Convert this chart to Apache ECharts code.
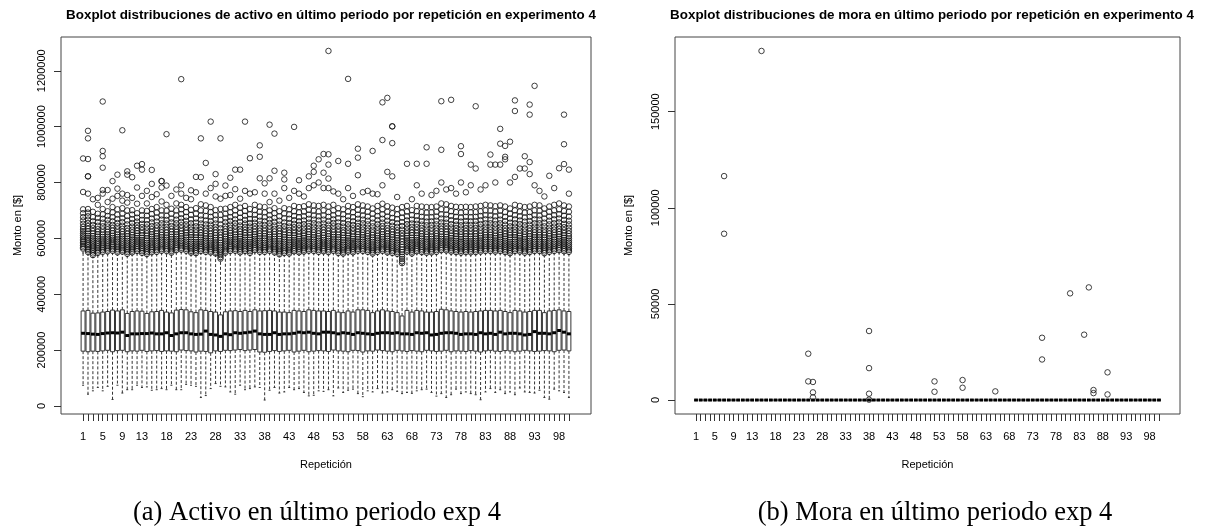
<!DOCTYPE html>
<html><head><meta charset="utf-8">
<script src="https://cdn.jsdelivr.net/npm/echarts@6/dist/echarts.min.js"></script>
<style>html,body{margin:0;padding:0;background:#fff}#c{width:1219px;height:527px}</style>
</head><body><div id="c"></div>
<script>
// ---------- categorías y ticks ----------
const repeticiones = ['1','2','3','4','5','6','7','8','9','10','11','12','13','14','15','16','17','18','19','20','21','22','23','24','25','26','27','28','29','30','31','32','33','34','35','36','37','38','39','40','41','42','43','44','45','46','47','48','49','50','51','52','53','54','55','56','57','58','59','60','61','62','63','64','65','66','67','68','69','70','71','72','73','74','75','76','77','78','79','80','81','82','83','84','85','86','87','88','89','90','91','92','93','94','95','96','97','98','99','100'];
const etiquetasX = ['1','5','9','13','18','23','28','33','38','43','48','53','58','63','68','73','78','83','88','93','98'];
const ticksYActivoMiles = [0,200,400,600,800,1000,1200];
const ticksYMora = [0,50000,100000,150000];

// ---------- activo (miles de $) ----------
const activoBigoteInfMiles = [74,42,54,66,54,70,23,74,46,58,58,74,66,68,56,58,62,58,74,58,58,77,74,70,30,37,62,80,70,68,50,42,74,58,62,68,66,21,56,66,46,50,66,58,62,48,36,38,54,52,58,36,64,48,56,60,44,33,54,50,62,46,50,58,52,44,48,45,54,58,60,48,35,44,30,40,60,44,50,44,40,22,50,62,48,58,44,50,40,64,50,48,46,56,30,24,60,54,48,30];
const activoQ1Miles = [196,194,196,195,197,199,194,198,199,194,197,196,199,195,197,198,195,197,196,194,200,198,197,193,196,195,190,197,195,199,198,200,202,198,200,202,193,192,195,198,195,197,199,193,196,199,194,196,198,197,195,200,197,196,194,199,198,193,197,196,200,198,196,194,199,197,195,198,196,194,199,197,195,196,199,194,197,196,195,198,196,193,197,199,196,195,198,197,194,196,199,197,195,196,198,197,194,199,200,197];
const activoMedianaMiles = [260,259,257,256,259,261,262,261,264,252,258,258,259,259,261,258,258,262,252,258,262,262,258,256,257,268,256,254,249,258,255,262,260,262,264,268,258,256,256,262,256,258,258,260,264,262,264,260,258,264,264,262,258,262,260,256,262,260,258,256,260,262,262,260,262,258,258,256,262,260,262,254,256,260,262,262,260,256,258,258,256,262,258,260,256,264,258,260,260,258,254,256,266,260,260,258,262,270,264,258];
const activoQ3Miles = [340,342,332,333,336,338,343,340,344,331,338,340,339,331,337,338,342,336,333,343,345,344,337,334,344,342,338,336,326,337,340,341,338,342,338,344,340,341,342,340,336,336,334,342,340,338,344,342,340,340,338,342,336,334,340,336,344,344,342,334,340,344,340,338,334,322,342,336,342,340,336,336,338,346,344,340,338,336,338,336,338,340,342,342,340,342,338,334,342,340,336,338,342,342,334,340,342,344,340,338];
const activoBigoteSupMiles = [548,540,532,538,541,543,546,540,543,535,540,545,538,534,540,542,546,544,540,548,550,545,540,538,545,542,540,538,522,540,545,546,540,545,538,548,542,542,546,540,534,538,536,544,540,543,546,545,542,544,541,546,538,536,543,540,546,545,542,536,542,546,540,538,535,505,543,536,544,541,539,540,542,548,547,543,541,539,541,540,541,543,545,545,543,545,541,537,545,543,539,541,545,545,537,542,545,548,544,542];
const activoAtipicosMiles = [
[563,568,574,580,586,591,597,604,611,618,626,633,641,652,664,676,690,704,766,886],
[551,557,562,568,575,581,588,594,601,609,617,625,634,644,655,667,679,692,705,760,822,822,884,958,985],
[540,546,553,559,566,572,579,586,593,600,608,617,626,636,648,661,676,695,740],
[548,553,559,565,571,578,584,591,598,606,614,623,633,645,658,673,688,720,745],
[552,558,564,570,577,583,590,597,605,613,622,632,643,656,670,686,705,760,773,853,894,913,1090],
[554,560,566,572,578,585,592,599,606,614,623,632,642,653,666,680,697,730,773],
[556,562,568,574,580,587,594,601,609,618,627,637,648,661,676,693,712,742,805],
[550,556,562,569,575,582,589,597,605,613,622,632,643,655,669,685,704,752,778,828],
[553,559,565,571,578,585,592,599,607,615,624,634,645,658,672,688,708,735,760,987],
[545,551,557,563,570,577,584,591,599,607,616,626,637,650,664,680,700,728,755,828,840],
[550,556,562,568,575,582,589,596,604,612,621,631,642,655,669,685,701,745,819],
[555,561,567,573,580,587,594,601,609,618,627,637,648,660,674,690,724,782,860],
[548,554,560,566,573,580,587,594,602,610,619,629,640,652,666,682,700,752,846,866],
[544,550,556,563,570,577,584,592,600,609,618,628,639,651,665,681,698,725,770],
[551,557,563,569,576,583,590,598,606,614,623,633,644,657,671,687,705,748,795,845],
[552,558,564,571,578,585,592,600,608,617,626,636,647,660,675,692,712,758],
[556,562,568,575,582,589,596,604,612,621,631,642,654,667,682,700,732,782,805,805],
[555,561,567,574,581,588,595,603,611,620,630,641,653,666,681,699,720,789,973],
[549,555,561,568,575,582,589,597,605,614,623,633,644,657,671,688,706,752],
[558,564,570,577,584,591,598,606,614,623,632,642,654,667,682,700,725,775],
[560,566,572,578,585,592,600,608,617,626,636,647,659,672,687,704,720,760,790,1170],
[556,562,568,574,581,588,595,603,611,620,629,639,650,663,677,694,712,745],
[549,555,561,567,574,581,588,596,604,612,621,631,642,654,668,684,702,740,772],
[547,553,559,566,573,580,587,595,603,612,621,631,643,656,671,688,708,765,820],
[555,561,567,573,580,587,595,603,611,620,630,641,653,667,682,700,722,819,958],
[552,558,564,571,578,585,592,600,608,617,627,638,650,664,680,698,718,760,870],
[550,556,562,569,576,583,591,599,607,616,626,637,649,662,677,694,712,780,1018],
[546,552,558,565,572,579,586,594,602,611,620,630,641,653,667,683,701,750,795,830],
[527,533,540,546,553,560,568,576,584,593,602,612,623,636,650,666,684,705,742,958],
[549,555,561,568,575,582,590,598,606,615,624,634,645,658,672,688,706,752,789],
[555,561,567,573,580,587,594,602,610,619,628,638,649,662,676,693,712,755,817],
[556,562,568,575,582,589,597,605,613,622,632,643,655,668,683,700,720,776,846],
[550,556,562,569,576,583,590,598,606,615,624,634,646,659,674,691,710,742,846],
[555,561,567,574,581,588,595,603,611,620,630,641,653,666,681,698,716,770,1018],
[548,554,560,566,573,580,587,595,603,612,621,631,642,655,669,686,705,760,887],
[558,564,570,577,584,591,598,606,614,623,633,644,656,669,684,701,720,765],
[552,558,564,571,578,585,592,600,608,617,627,638,650,663,678,695,714,815,892,933],
[552,558,564,570,577,584,592,600,608,617,626,636,648,661,676,693,712,760,797],
[556,562,568,575,582,589,597,605,613,622,632,643,655,668,683,700,730,815,1007],
[550,556,562,568,575,582,590,598,606,615,624,634,646,659,673,690,708,760,842,975],
[543,549,555,561,568,575,582,590,598,607,616,626,637,649,663,679,697,735],
[548,554,560,567,574,581,588,596,604,613,622,632,644,657,672,689,708,780,811,835],
[546,552,558,564,571,578,586,594,602,611,620,630,642,655,670,686,704,745],
[554,560,566,573,580,587,594,602,610,619,629,640,652,665,680,697,716,770,999],
[550,556,562,569,576,583,590,598,606,615,625,636,648,661,676,693,712,760,808],
[553,559,565,572,579,586,593,601,609,618,628,639,651,664,679,696,715,750],
[556,562,568,575,582,589,597,605,614,623,633,644,656,670,685,702,722,780,822],
[555,561,567,574,581,588,596,604,612,621,631,642,654,667,682,699,718,790,838,860],
[552,558,564,571,578,585,592,600,608,617,627,638,650,664,679,696,716,800,883],
[554,560,566,573,580,587,594,602,611,620,630,641,653,667,682,700,720,780,835,902],
[551,557,563,570,577,584,591,599,607,616,626,637,649,662,677,694,714,780,814,864,901,1271],
[556,562,568,575,582,589,597,605,613,622,632,643,655,668,683,700,720,768],
[548,554,560,567,574,581,588,596,604,613,622,632,644,657,672,689,708,760,877],
[546,552,558,564,571,578,586,594,602,611,620,630,642,655,670,686,704,740],
[553,559,565,572,579,586,593,601,609,618,628,639,651,664,679,696,716,780,867,1171],
[550,556,562,569,576,583,590,598,606,615,625,636,648,661,676,693,712,752],
[556,562,568,575,582,589,597,605,614,623,633,644,656,670,685,702,722,826,889,921],
[555,561,567,574,581,588,596,604,612,621,631,642,654,667,682,699,718,765],
[552,558,564,571,578,585,592,600,608,617,627,638,650,663,678,695,714,770],
[546,552,558,565,572,579,587,595,603,612,621,631,643,656,671,688,707,760,913],
[552,558,564,571,578,585,593,601,609,618,628,639,651,665,680,697,716,758],
[556,562,568,575,582,589,597,605,614,623,633,644,656,670,686,704,724,790,952,1087],
[550,556,562,569,576,583,591,599,607,616,626,637,649,663,678,695,715,838,1103],
[548,554,560,567,574,581,588,596,604,613,623,633,645,658,673,690,710,822,941,1001,1001],
[545,551,557,564,571,578,585,593,601,610,619,629,641,654,669,686,705,748],
[511,518,526,534,542,551,560,569,578,588,598,608,619,631,644,658,674,692,712],
[553,559,565,572,579,586,593,601,609,618,628,639,651,664,679,696,716,867],
[546,552,558,565,572,579,586,594,602,611,620,630,641,653,667,683,701,740],
[554,560,566,573,580,587,594,602,610,619,629,640,652,665,680,697,716,790,867],
[551,557,563,570,577,584,591,599,607,616,626,637,649,662,677,694,714,760],
[549,555,561,568,575,582,589,597,605,614,624,635,647,660,675,692,712,867,926],
[550,556,562,569,576,583,590,598,606,615,625,636,648,661,676,693,712,755],
[552,558,564,571,578,585,592,600,608,617,627,638,650,663,678,695,714,770],
[558,564,570,577,584,591,598,606,615,624,634,645,657,671,686,704,725,800,917,1091],
[557,563,569,576,583,590,597,605,614,623,633,644,656,670,685,702,722,775],
[553,559,565,572,579,586,593,601,609,618,628,639,651,665,680,697,716,780,1096],
[551,557,563,570,577,584,591,599,607,616,626,637,649,662,677,694,713,760],
[549,555,561,568,575,582,589,597,605,614,624,635,647,660,675,692,712,800,902,930],
[551,557,563,570,577,584,591,599,607,616,626,637,649,662,677,694,713,765],
[550,556,562,569,576,583,590,598,606,615,625,636,648,661,676,693,712,790,864],
[551,557,563,570,577,584,591,599,607,616,626,637,649,662,677,694,714,850,1073],
[553,559,565,572,579,586,593,601,609,618,628,639,651,665,680,697,716,775],
[555,561,567,574,581,588,596,604,612,621,631,642,654,668,683,700,720,790],
[555,561,567,574,581,588,596,604,612,621,631,642,654,667,682,699,718,864,900],
[553,559,565,572,579,586,593,601,609,618,628,639,651,664,679,696,715,800,864],
[555,561,567,574,581,588,596,604,612,621,631,642,654,667,682,699,718,864,939,992],
[551,557,563,570,577,584,591,599,607,616,626,637,649,662,677,694,714,883,892,931],
[547,553,559,566,573,580,587,595,603,612,621,631,643,656,671,688,707,800,946],
[555,561,567,574,581,588,596,604,612,621,631,642,654,668,683,700,720,820,1056,1094],
[553,559,565,572,579,586,593,601,609,618,628,639,651,664,679,696,716,850],
[549,555,561,568,575,582,589,597,605,614,624,635,647,660,675,692,712,850,894],
[551,557,563,570,577,584,591,599,607,616,626,637,649,662,677,694,714,830,873,1043,1079],
[555,561,567,574,581,588,596,604,612,621,631,642,654,668,683,700,720,790,1146],
[555,561,567,574,581,588,596,604,612,621,631,642,654,667,682,699,718,770],
[547,553,559,566,573,580,587,595,603,612,621,631,643,656,671,688,707,750],
[552,558,564,571,578,585,592,600,608,617,627,638,650,663,678,695,714,824],
[555,561,567,574,581,588,596,604,612,621,631,642,654,668,683,700,720,780],
[558,564,570,577,584,591,598,606,615,624,634,645,657,671,686,704,725,851],
[554,560,566,573,580,587,594,602,610,619,629,640,652,666,681,698,718,866,937,1043],
[552,558,564,571,578,585,592,600,608,617,627,638,650,663,678,695,714,760,846]
];

// ---------- mora ($) ----------
const moraBigoteInf = [0,0,0,0,0,0,0,0,0,0,0,0,0,0,0,0,0,0,0,0,0,0,0,0,0,0,0,0,0,0,0,0,0,0,0,0,0,0,0,0,0,0,0,0,0,0,0,0,0,0,0,0,0,0,0,0,0,0,0,0,0,0,0,0,0,0,0,0,0,0,0,0,0,0,0,0,0,0,0,0,0,0,0,0,0,0,0,0,0,0,0,0,0,0,0,0,0,0,0,0];
const moraQ1 = [0,0,0,0,0,0,0,0,0,0,0,0,0,0,0,0,0,0,0,0,0,0,0,0,0,0,0,0,0,0,0,0,0,0,0,0,0,0,0,0,0,0,0,0,0,0,0,0,0,0,0,0,0,0,0,0,0,0,0,0,0,0,0,0,0,0,0,0,0,0,0,0,0,0,0,0,0,0,0,0,0,0,0,0,0,0,0,0,0,0,0,0,0,0,0,0,0,0,0,0];
const moraMediana = [0,0,0,0,0,0,0,0,0,0,0,0,0,0,0,0,0,0,0,0,0,0,0,0,0,0,0,0,0,0,0,0,0,0,0,0,0,0,0,0,0,0,0,0,0,0,0,0,0,0,0,0,0,0,0,0,0,0,0,0,0,0,0,0,0,0,0,0,0,0,0,0,0,0,0,0,0,0,0,0,0,0,0,0,0,0,0,0,0,0,0,0,0,0,0,0,0,0,0,0];
const moraQ3 = [0,0,0,0,0,0,0,0,0,0,0,0,0,0,0,0,0,0,0,0,0,0,0,0,0,0,0,0,0,0,0,0,0,0,0,0,0,0,0,0,0,0,0,0,0,0,0,0,0,0,0,0,0,0,0,0,0,0,0,0,0,0,0,0,0,0,0,0,0,0,0,0,0,0,0,0,0,0,0,0,0,0,0,0,0,0,0,0,0,0,0,0,0,0,0,0,0,0,0,0];
const moraBigoteSup = [0,0,0,0,0,0,0,0,0,0,0,0,0,0,0,0,0,0,0,0,0,0,0,0,0,0,0,0,0,0,0,0,0,0,0,0,0,0,0,0,0,0,0,0,0,0,0,0,0,0,0,0,0,0,0,0,0,0,0,0,0,0,0,0,0,0,0,0,0,0,0,0,0,0,0,0,0,0,0,0,0,0,0,0,0,0,0,0,0,0,0,0,0,0,0,0,0,0,0,0];
const moraAtipicosRep = ['7','7','15','25','25','26','26','26','38','38','38','38','52','52','58','58','65','75','75','81','84','85','86','86','89','89'];
const moraAtipicosValor = [116500,86500,181600,24100,9700,9400,4000,1400,35900,16600,3300,200,9700,4300,10400,6400,4500,32400,21100,55500,34000,58600,5200,3600,14400,2900];

// ---------- construcción ----------
const padIzq = ['p1','p2','p3','p4'], padDer = ['p5','p6','p7','p8'];
const categorias = padIzq.concat(repeticiones, padDer);
const cajasActivo = repeticiones.map((r, i) => [r, activoBigoteInfMiles[i], activoQ1Miles[i], activoMedianaMiles[i], activoQ3Miles[i], activoBigoteSupMiles[i]]);
const puntosActivo = [];
repeticiones.forEach((r, i) => activoAtipicosMiles[i].forEach(v => puntosActivo.push([r, v])));
const cajasMora = repeticiones.map((r, i) => [r, moraBigoteInf[i], moraQ1[i], moraMediana[i], moraQ3[i], moraBigoteSup[i]]);
const puntosMora = moraAtipicosRep.map((r, i) => [r, moraAtipicosValor[i]]);

function dibujarCaja(params, api) {
  const i = api.value(0);
  const pLo = api.coord([i, api.value(1)]);
  const pQ1 = api.coord([i, api.value(2)]);
  const pMd = api.coord([i, api.value(3)]);
  const pQ3 = api.coord([i, api.value(4)]);
  const pHi = api.coord([i, api.value(5)]);
  const w = api.size([1, 0])[0] * 0.8;
  const cx = pMd[0];
  const st = w * 0.25;
  const dash = {stroke: '#333', lineWidth: 1, lineDash: [3, 2], fill: null};
  const solid = {stroke: '#333', lineWidth: 1, fill: null};
  return {type: 'group', children: [
    {type: 'line', shape: {x1: cx, y1: pQ1[1], x2: cx, y2: pLo[1]}, style: dash},
    {type: 'line', shape: {x1: cx, y1: pQ3[1], x2: cx, y2: pHi[1]}, style: dash},
    {type: 'line', shape: {x1: cx - st, y1: pLo[1], x2: cx + st, y2: pLo[1]}, style: solid},
    {type: 'line', shape: {x1: cx - st, y1: pHi[1], x2: cx + st, y2: pHi[1]}, style: solid},
    {type: 'rect', shape: {x: cx - w / 2, y: pQ3[1], width: w, height: pQ1[1] - pQ3[1]}, style: {fill: '#fff', stroke: '#333', lineWidth: 1}},
    {type: 'line', shape: {x1: cx - w / 2, y1: pMd[1], x2: cx + w / 2, y2: pMd[1]}, style: {stroke: '#000', lineWidth: 3}}
  ]};
}

const fuente = 'Liberation Sans, Arial, Helvetica, sans-serif';
const rangoR = {
  min: e => e.min - 0.04 * (e.max - e.min),
  max: e => e.max + 0.04 * (e.max - e.min)
};
function ejeX(gi) {
  return {
    type: 'category', gridIndex: gi, data: categorias, boundaryGap: true,
    name: 'Repetición', nameLocation: 'middle', nameGap: 45,
    nameTextStyle: {fontFamily: fuente, fontSize: 11, color: '#000'},
    axisLine: {show: false, onZero: false},
    axisTick: {show: true, alignWithLabel: true, length: 7, interval: (idx, v) => repeticiones.indexOf(v) >= 0, lineStyle: {color: '#333', width: 1}},
    axisLabel: {interval: (idx, v) => etiquetasX.indexOf(v) >= 0, margin: 17, fontFamily: fuente, fontSize: 11, color: '#000'},
    splitLine: {show: false}
  };
}
function ejeY(gi, ticks, fmt, gap) {
  return {
    type: 'value', gridIndex: gi, min: rangoR.min, max: rangoR.max,
    name: 'Monto en [$]', nameLocation: 'middle', nameGap: gap, nameRotate: 90,
    nameTextStyle: {fontFamily: fuente, fontSize: 11, color: '#000'},
    axisLine: {show: false, onZero: false},
    axisTick: {show: true, length: 7, customValues: ticks, lineStyle: {color: '#333', width: 1}},
    axisLabel: {customValues: ticks, rotate: 90, margin: 14, formatter: fmt, fontFamily: fuente, fontSize: 11, color: '#000'},
    splitLine: {show: false}
  };
}

const chart = echarts.init(document.getElementById('c'), null, {renderer: 'canvas'});
chart.setOption({
  animation: false,
  backgroundColor: '#fff',
  title: [
    {text: 'Boxplot distribuciones de activo en último periodo por repetición en experimento 4', left: 326, top: 4, textAlign: 'center', textStyle: {fontFamily: fuente, fontSize: 13.4, fontWeight: 'bold', color: '#000'}},
    {text: 'Boxplot distribuciones de mora en último periodo por repetición en experimento 4', left: 927, top: 4, textAlign: 'center', textStyle: {fontFamily: fuente, fontSize: 13.4, fontWeight: 'bold', color: '#000'}},
    {text: '(a) Activo en último periodo exp 4', left: 312, top: 495, textAlign: 'center', textStyle: {fontFamily: 'Liberation Serif, serif', fontSize: 26.5, fontWeight: 'normal', color: '#000'}},
    {text: '(b) Mora en último periodo exp 4', left: 930, top: 495, textAlign: 'center', textStyle: {fontFamily: 'Liberation Serif, serif', fontSize: 26.5, fontWeight: 'normal', color: '#000'}}
  ],
  grid: [
    {left: 61, top: 37, width: 530, height: 377, show: true, borderColor: '#444', borderWidth: 1, backgroundColor: 'transparent'},
    {left: 675, top: 37, width: 505, height: 377, show: true, borderColor: '#444', borderWidth: 1, backgroundColor: 'transparent'}
  ],
  xAxis: [ejeX(0), ejeX(1)],
  yAxis: [
    ejeY(0, ticksYActivoMiles, v => String(Math.round(v * 1000)), 38),
    ejeY(1, ticksYMora, v => String(v), 41)
  ],
  series: [
    {type: 'custom', xAxisIndex: 0, yAxisIndex: 0, data: cajasActivo, encode: {x: 0, y: [1, 2, 3, 4, 5]}, renderItem: dibujarCaja, silent: true},
    {type: 'scatter', xAxisIndex: 0, yAxisIndex: 0, data: puntosActivo, symbol: 'circle', symbolSize: 5.5, itemStyle: {color: 'rgba(0,0,0,0)', borderColor: '#111', borderWidth: 1}, silent: true},
    {type: 'custom', xAxisIndex: 1, yAxisIndex: 1, data: cajasMora, encode: {x: 0, y: [1, 2, 3, 4, 5]}, renderItem: dibujarCaja, silent: true},
    {type: 'scatter', xAxisIndex: 1, yAxisIndex: 1, data: puntosMora, symbol: 'circle', symbolSize: 5.5, itemStyle: {color: 'rgba(0,0,0,0)', borderColor: '#111', borderWidth: 1}, silent: true}
  ]
});
</script>
</body></html>
